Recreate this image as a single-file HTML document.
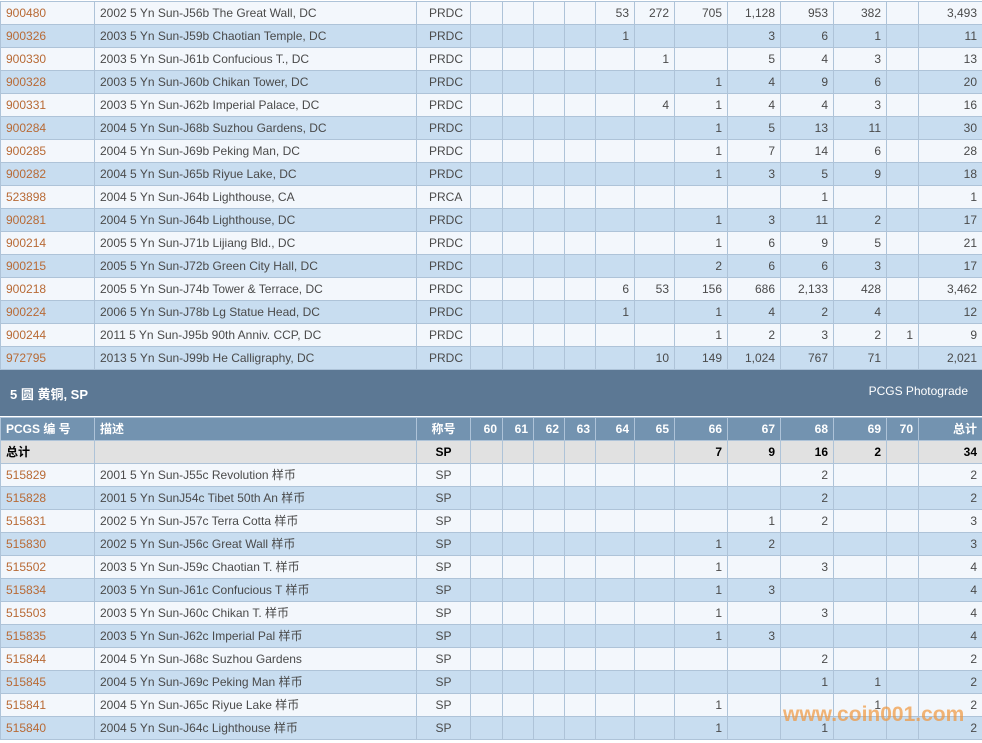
<!DOCTYPE html>
<html><head><meta charset="utf-8"><style>
body{margin:0;background:#fff;width:982px;height:743px;overflow:hidden;font-family:"Liberation Sans","Noto Sans CJK SC",sans-serif;font-size:12px;color:#4a4a4a;position:relative}
table{border-collapse:collapse;table-layout:fixed;position:absolute;left:0;width:982px}
td{border:1px solid #aec3d8;height:22px;padding:0 5px;white-space:nowrap;overflow:hidden;text-align:right;line-height:14px}
td:nth-child(1){text-align:left;color:#b86a35}
td:nth-child(2){text-align:left}
td:nth-child(3){text-align:left;padding-left:12px}
tr:nth-child(odd) td{background:#f3f7fc}
tr:nth-child(even) td{background:#c8ddf0}
.band{position:absolute;left:0;top:370px;width:982px;height:46px;background:#5c7894;color:#fff}
.band b{position:absolute;left:10px;top:14px;font-size:13px}
.band span{position:absolute;right:14px;top:14px;font-size:12px}
tr.h td{background:#7393b0;color:#fff;font-weight:bold}
tr.h td:nth-child(1){color:#fff}
tr.t td{background:#e1e1e1;color:#000;font-weight:bold}
tr.t td:nth-child(1){color:#000}
tr.s td:nth-child(3),tr.h td:nth-child(3),tr.t td:nth-child(3){text-align:center;padding-left:5px}
.wm{position:absolute;left:783px;top:703px;font-size:21px;font-weight:bold;color:rgba(240,150,60,0.7);font-family:"Liberation Sans",sans-serif}
</style></head><body>
<table style="top:1px">
<colgroup><col style="width:94px"><col style="width:322px"><col style="width:54px"><col style="width:32px"><col style="width:31px"><col style="width:31px"><col style="width:31px"><col style="width:39px"><col style="width:40px"><col style="width:53px"><col style="width:53px"><col style="width:53px"><col style="width:53px"><col style="width:32px"><col style="width:64px"></colgroup>
<tr><td>900480</td><td>2002 5 Yn Sun-J56b The Great Wall, DC</td><td>PRDC</td><td></td><td></td><td></td><td></td><td>53</td><td>272</td><td>705</td><td>1,128</td><td>953</td><td>382</td><td></td><td>3,493</td></tr>
<tr><td>900326</td><td>2003 5 Yn Sun-J59b Chaotian Temple, DC</td><td>PRDC</td><td></td><td></td><td></td><td></td><td>1</td><td></td><td></td><td>3</td><td>6</td><td>1</td><td></td><td>11</td></tr>
<tr><td>900330</td><td>2003 5 Yn Sun-J61b Confucious T., DC</td><td>PRDC</td><td></td><td></td><td></td><td></td><td></td><td>1</td><td></td><td>5</td><td>4</td><td>3</td><td></td><td>13</td></tr>
<tr><td>900328</td><td>2003 5 Yn Sun-J60b Chikan Tower, DC</td><td>PRDC</td><td></td><td></td><td></td><td></td><td></td><td></td><td>1</td><td>4</td><td>9</td><td>6</td><td></td><td>20</td></tr>
<tr><td>900331</td><td>2003 5 Yn Sun-J62b Imperial Palace, DC</td><td>PRDC</td><td></td><td></td><td></td><td></td><td></td><td>4</td><td>1</td><td>4</td><td>4</td><td>3</td><td></td><td>16</td></tr>
<tr><td>900284</td><td>2004 5 Yn Sun-J68b Suzhou Gardens, DC</td><td>PRDC</td><td></td><td></td><td></td><td></td><td></td><td></td><td>1</td><td>5</td><td>13</td><td>11</td><td></td><td>30</td></tr>
<tr><td>900285</td><td>2004 5 Yn Sun-J69b Peking Man, DC</td><td>PRDC</td><td></td><td></td><td></td><td></td><td></td><td></td><td>1</td><td>7</td><td>14</td><td>6</td><td></td><td>28</td></tr>
<tr><td>900282</td><td>2004 5 Yn Sun-J65b Riyue Lake, DC</td><td>PRDC</td><td></td><td></td><td></td><td></td><td></td><td></td><td>1</td><td>3</td><td>5</td><td>9</td><td></td><td>18</td></tr>
<tr><td>523898</td><td>2004 5 Yn Sun-J64b Lighthouse, CA</td><td>PRCA</td><td></td><td></td><td></td><td></td><td></td><td></td><td></td><td></td><td>1</td><td></td><td></td><td>1</td></tr>
<tr><td>900281</td><td>2004 5 Yn Sun-J64b Lighthouse, DC</td><td>PRDC</td><td></td><td></td><td></td><td></td><td></td><td></td><td>1</td><td>3</td><td>11</td><td>2</td><td></td><td>17</td></tr>
<tr><td>900214</td><td>2005 5 Yn Sun-J71b Lijiang Bld., DC</td><td>PRDC</td><td></td><td></td><td></td><td></td><td></td><td></td><td>1</td><td>6</td><td>9</td><td>5</td><td></td><td>21</td></tr>
<tr><td>900215</td><td>2005 5 Yn Sun-J72b Green City Hall, DC</td><td>PRDC</td><td></td><td></td><td></td><td></td><td></td><td></td><td>2</td><td>6</td><td>6</td><td>3</td><td></td><td>17</td></tr>
<tr><td>900218</td><td>2005 5 Yn Sun-J74b Tower &amp; Terrace, DC</td><td>PRDC</td><td></td><td></td><td></td><td></td><td>6</td><td>53</td><td>156</td><td>686</td><td>2,133</td><td>428</td><td></td><td>3,462</td></tr>
<tr><td>900224</td><td>2006 5 Yn Sun-J78b Lg Statue Head, DC</td><td>PRDC</td><td></td><td></td><td></td><td></td><td>1</td><td></td><td>1</td><td>4</td><td>2</td><td>4</td><td></td><td>12</td></tr>
<tr><td>900244</td><td>2011 5 Yn Sun-J95b 90th Anniv. CCP, DC</td><td>PRDC</td><td></td><td></td><td></td><td></td><td></td><td></td><td>1</td><td>2</td><td>3</td><td>2</td><td>1</td><td>9</td></tr>
<tr><td>972795</td><td>2013 5 Yn Sun-J99b He Calligraphy, DC</td><td>PRDC</td><td></td><td></td><td></td><td></td><td></td><td>10</td><td>149</td><td>1,024</td><td>767</td><td>71</td><td></td><td>2,021</td></tr>
</table>
<div class="band"><b>5 圆 黄铜, SP</b><span>PCGS Photograde</span></div>
<table style="top:417px">
<colgroup><col style="width:94px"><col style="width:322px"><col style="width:54px"><col style="width:32px"><col style="width:31px"><col style="width:31px"><col style="width:31px"><col style="width:39px"><col style="width:40px"><col style="width:53px"><col style="width:53px"><col style="width:53px"><col style="width:53px"><col style="width:32px"><col style="width:64px"></colgroup>
<tr class="h"><td>PCGS 编 号</td><td>描述</td><td>称号</td><td>60</td><td>61</td><td>62</td><td>63</td><td>64</td><td>65</td><td>66</td><td>67</td><td>68</td><td>69</td><td>70</td><td>总计</td></tr>
<tr class="t"><td>总计</td><td></td><td>SP</td><td></td><td></td><td></td><td></td><td></td><td></td><td>7</td><td>9</td><td>16</td><td>2</td><td></td><td>34</td></tr>
<tr class="s"><td>515829</td><td>2001 5 Yn Sun-J55c Revolution 样币</td><td>SP</td><td></td><td></td><td></td><td></td><td></td><td></td><td></td><td></td><td>2</td><td></td><td></td><td>2</td></tr>
<tr class="s"><td>515828</td><td>2001 5 Yn SunJ54c Tibet 50th An 样币</td><td>SP</td><td></td><td></td><td></td><td></td><td></td><td></td><td></td><td></td><td>2</td><td></td><td></td><td>2</td></tr>
<tr class="s"><td>515831</td><td>2002 5 Yn Sun-J57c Terra Cotta 样币</td><td>SP</td><td></td><td></td><td></td><td></td><td></td><td></td><td></td><td>1</td><td>2</td><td></td><td></td><td>3</td></tr>
<tr class="s"><td>515830</td><td>2002 5 Yn Sun-J56c Great Wall 样币</td><td>SP</td><td></td><td></td><td></td><td></td><td></td><td></td><td>1</td><td>2</td><td></td><td></td><td></td><td>3</td></tr>
<tr class="s"><td>515502</td><td>2003 5 Yn Sun-J59c Chaotian T. 样币</td><td>SP</td><td></td><td></td><td></td><td></td><td></td><td></td><td>1</td><td></td><td>3</td><td></td><td></td><td>4</td></tr>
<tr class="s"><td>515834</td><td>2003 5 Yn Sun-J61c Confucious T 样币</td><td>SP</td><td></td><td></td><td></td><td></td><td></td><td></td><td>1</td><td>3</td><td></td><td></td><td></td><td>4</td></tr>
<tr class="s"><td>515503</td><td>2003 5 Yn Sun-J60c Chikan T. 样币</td><td>SP</td><td></td><td></td><td></td><td></td><td></td><td></td><td>1</td><td></td><td>3</td><td></td><td></td><td>4</td></tr>
<tr class="s"><td>515835</td><td>2003 5 Yn Sun-J62c Imperial Pal 样币</td><td>SP</td><td></td><td></td><td></td><td></td><td></td><td></td><td>1</td><td>3</td><td></td><td></td><td></td><td>4</td></tr>
<tr class="s"><td>515844</td><td>2004 5 Yn Sun-J68c Suzhou Gardens</td><td>SP</td><td></td><td></td><td></td><td></td><td></td><td></td><td></td><td></td><td>2</td><td></td><td></td><td>2</td></tr>
<tr class="s"><td>515845</td><td>2004 5 Yn Sun-J69c Peking Man 样币</td><td>SP</td><td></td><td></td><td></td><td></td><td></td><td></td><td></td><td></td><td>1</td><td>1</td><td></td><td>2</td></tr>
<tr class="s"><td>515841</td><td>2004 5 Yn Sun-J65c Riyue Lake 样币</td><td>SP</td><td></td><td></td><td></td><td></td><td></td><td></td><td>1</td><td></td><td></td><td>1</td><td></td><td>2</td></tr>
<tr class="s"><td>515840</td><td>2004 5 Yn Sun-J64c Lighthouse 样币</td><td>SP</td><td></td><td></td><td></td><td></td><td></td><td></td><td>1</td><td></td><td>1</td><td></td><td></td><td>2</td></tr>
</table>
<div class="wm">www.coin001.com</div>
</body></html>
